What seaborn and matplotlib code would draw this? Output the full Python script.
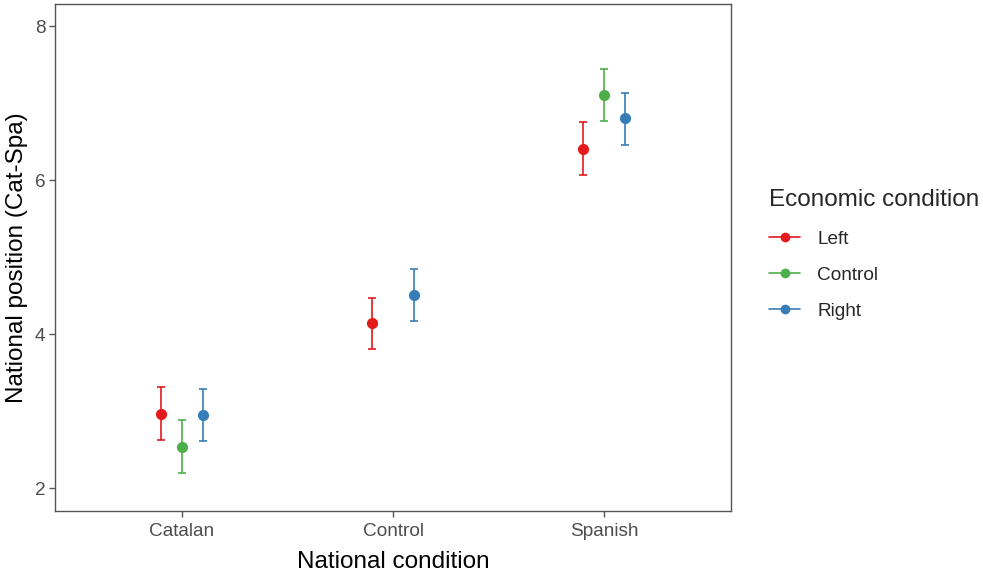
import numpy as np
import pandas as pd
import matplotlib
matplotlib.use("Agg")
import matplotlib.pyplot as plt
from matplotlib.lines import Line2D
import seaborn as sns

national_levels = ["Catalan", "Control", "Spanish"]
economic_levels = ["Left", "Control", "Right"]
palette = {"Left": "#E41A1C", "Control": "#4DAF4A", "Right": "#377EB8"}

national = ["Catalan", "Catalan", "Catalan", "Control", "Control", "Spanish", "Spanish", "Spanish"]
economic = ["Left", "Control", "Right", "Left", "Right", "Left", "Control", "Right"]
means = [2.97, 2.54, 2.95, 4.15, 4.51, 6.41, 7.11, 6.80]
lower = [2.63, 2.20, 2.61, 3.81, 4.17, 6.07, 6.77, 6.46]
upper = [3.31, 2.88, 3.29, 4.47, 4.84, 6.75, 7.44, 7.13]

df = pd.DataFrame({"national": national, "economic": economic,
                   "mean": means, "lower": lower, "upper": upper})

sns.set_style("white")
plt.rcParams["font.family"] = ["Liberation Sans", "DejaVu Sans"]

fig = plt.figure(figsize=(9.83, 5.71), dpi=100)
ax = fig.add_axes([55 / 983, 1 - 511 / 571, (731 - 55) / 983, (511 - 4) / 571])

sns.pointplot(data=df, x="national", y="mean", hue="economic",
              order=national_levels, hue_order=economic_levels,
              palette=palette, dodge=0.2, errorbar=None,
              linestyle="none", markers="o", markersize=6,
              legend=False, ax=ax, zorder=3)

# error bars at the dodged category positions used by pointplot
offsets = dict(zip(economic_levels, np.linspace(-0.1, 0.1, len(economic_levels))))
for _, r in df.iterrows():
    x = national_levels.index(r["national"]) + offsets[r["economic"]]
    ax.errorbar([x], [r["mean"]],
                yerr=[[r["mean"] - r["lower"]], [r["upper"] - r["mean"]]],
                fmt="none", ecolor=palette[r["economic"]], elinewidth=1.2,
                capsize=3.0, capthick=1.2, zorder=2)

ax.set_xlim(-0.6, 2.6)
ax.set_ylim(1.705, 8.286)
ax.set_yticks([2, 4, 6, 8])
ax.set_yticklabels(["2", "4", "6", "8"])

for s in ax.spines.values():
    s.set_color("#555555")
    s.set_linewidth(1.0)
ax.tick_params(axis="both", which="major", length=4, width=1.0, color="#555555",
               labelcolor="#4D4D4D", labelsize=13.7, direction="out",
               bottom=True, left=True, pad=3)
ax.tick_params(axis="x", pad=5)

ax.set_xlabel("National condition", fontsize=17.5, color="black", labelpad=7.5)
ax.set_ylabel("National position (Cat-Spa)", fontsize=17.5, color="black", labelpad=4.5)

handles = [Line2D([0], [0], color=palette[e], marker="o", markersize=6,
                  linewidth=1.2) for e in economic_levels]
leg = fig.legend(handles, economic_levels, title="Economic condition",
                 loc="upper left", bbox_to_anchor=(755 / 983, 1 - 175 / 571),
                 frameon=False, fontsize=13.7, title_fontsize=17.5,
                 handlelength=1.6, handletextpad=0.9, labelspacing=0.99,
                 borderpad=0.76, alignment="left", borderaxespad=0)

fig.savefig("out.png", dpi=100)
